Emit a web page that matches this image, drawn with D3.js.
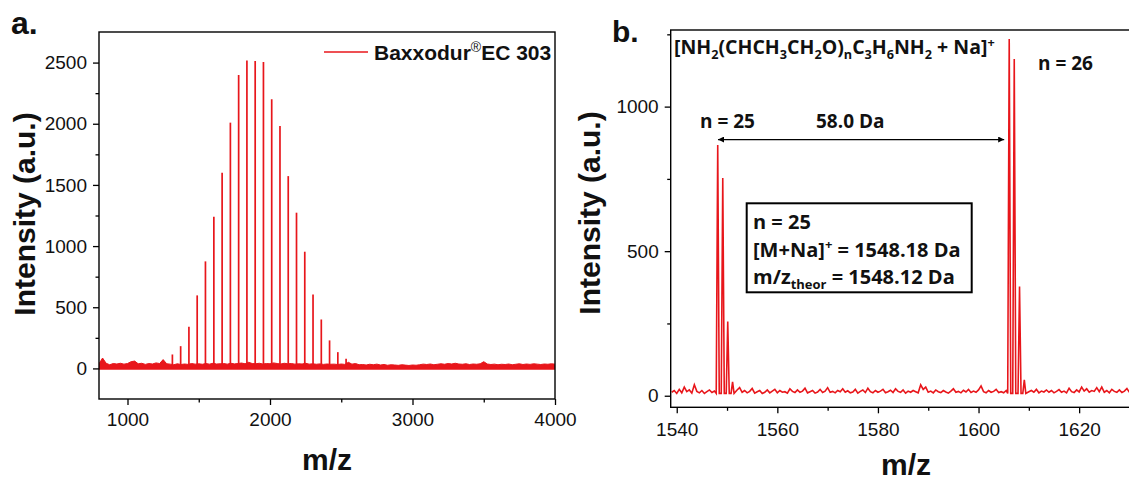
<!DOCTYPE html>
<html><head><meta charset="utf-8">
<script src="https://cdn.jsdelivr.net/npm/d3@7"></script>
<style>body{margin:0;background:#fff} svg{display:block}</style>
</head><body><svg id="c" width="1129" height="481"></svg>
<script>
// ---------- data: panel a ----------
const peaksA_mz  = [1315,1373,1431,1489,1547,1606,1664,1722,1780,1838,1896,1954,2012,2070,2128,2186,2244,2302,2360,2418,2476,2534];
const peaksA_int = [ 114, 182, 341, 597, 875,1240,1600,2009,2398,2518,2513,2505,2200,1981,1572,1273, 954, 605, 400, 229, 133,  79];
const noiseA_start = 800, noiseA_step = 25;
const noiseA = [38,85,42,30,40,36,42,35,40,55,60,38,42,33,40,36,45,40,72,38,
  35,30,38,32,36,33,40,35,38,34,40,35,42,36,38,40,35,42,37,40,
  44,38,50,40,38,42,36,40,38,45,40,36,42,38,40,35,38,36,42,35,
  38,34,37,33,36,34,35,32,36,33,50,35,40,30,32,28,34,30,35,28,
  32,26,30,28,25,30,27,24,28,26,30,35,32,36,30,34,38,34,40,36,
  42,36,34,38,32,36,34,38,55,36,32,35,30,34,32,36,30,34,38,32,
  36,33,38,35,32,36,34,38,35];
const xTicksA = [1000,2000,3000,4000];
const xMinorA = [1500,2500,3500];
const yTicksA = [0,500,1000,1500,2000,2500];
const yMinorA = [250,750,1250,1750,2250];

// ---------- data: panel b ----------
const peaksB_mz  = [1548.15,1549.15,1550.14,1551.1,1606.1,1607.1,1608.15,1609.1];
const peaksB_int = [ 867, 753, 257, 48, 1234, 1165, 378, 55];
const noiseB_start = 1539, noiseB_step = 0.5;
const noiseB = [12,18,8,22,10,30,14,20,9,38,
  15,10,18,8,14,20,11,16,10,12,
  10,12,10,14,10,45,20,28,12,18,
  10,15,25,9,14,18,8,12,20,10,
  16,22,10,18,12,14,9,24,15,11,
  20,12,16,26,10,14,18,9,13,22,
  11,16,28,12,15,10,18,14,24,12,
  17,10,13,22,9,15,20,11,26,14,
  10,18,12,16,22,10,14,19,11,24,
  15,12,20,9,16,12,18,14,10,38,
  22,30,12,16,10,20,14,11,18,13,
  9,16,24,12,15,10,19,13,22,11,
  16,12,20,34,14,10,18,12,15,22,
  11,14,10,18,10,10,10,10,10,10,
  10,28,14,18,12,22,10,16,13,20,
  12,18,10,15,21,12,16,10,26,14,
  11,20,13,30,16,24,12,18,15,28,
  14,30,12,18,10,22,15,12,20,11,
  16,25,12,18,14,20,12];
const xTicksB = [1540,1560,1580,1600,1620];
const xMinorB = [1550,1570,1590,1610,1630];
const yTicksB = [0,500,1000];
const yMinorB = [250,750,1250];

const RED = "#e8161b";
const TICKFONT = "'Liberation Sans', Arial, sans-serif";
const LBLFONT = "'Open Sans', 'Lato', sans-serif";

const svg = d3.select("#c");
const defs = svg.append("defs");

// ---------- panel a ----------
const A = {l:99, r:555, t:32, b:399};
const xA = d3.scaleLinear().domain([800,4000]).range([A.l, A.r]);
const yA = d3.scaleLinear().domain([-250,2750]).range([A.b, A.t]);

const gA = svg.append("g");
defs.append("clipPath").attr("id","clipA").append("rect")
  .attr("x",A.l).attr("y",A.t).attr("width",A.r-A.l).attr("height",A.b-A.t);

const noiseAPts = noiseA.map((v,i)=>({mz: noiseA_start + i*noiseA_step, v}));
const plotA = gA.append("g").attr("clip-path","url(#clipA)");
plotA.append("path").datum(noiseAPts)
  .attr("d", d3.area().x(d=>xA(d.mz)).y0(yA(-10)).y1(d=>yA(d.v)))
  .attr("fill", RED);
plotA.append("path").datum(noiseAPts)
  .attr("d", d3.line().x(d=>xA(d.mz)).y(d=>yA(d.v)))
  .attr("fill","none").attr("stroke",RED).attr("stroke-width",1);
plotA.selectAll("line.pk").data(peaksA_mz.map((m,i)=>({mz:m, v:peaksA_int[i]})))
  .join("line").attr("class","pk")
  .attr("x1",d=>xA(d.mz)).attr("x2",d=>xA(d.mz))
  .attr("y1",yA(0)).attr("y2",d=>yA(d.v))
  .attr("stroke",RED).attr("stroke-width",1.7);

function styleAxis(g){
  g.select(".domain").remove();
  g.selectAll(".tick line").attr("stroke","#000").attr("stroke-width",1.3);
  g.selectAll(".tick text").attr("font-family",TICKFONT).attr("font-size",19).attr("fill","#111");
}
// x axis a
gA.append("g").attr("transform",`translate(0,${A.b})`)
  .call(d3.axisBottom(xA).tickValues(xTicksA).tickSize(6).tickPadding(8).tickFormat(d3.format("d")))
  .call(styleAxis);
gA.append("g").attr("transform",`translate(0,${A.b})`)
  .call(d3.axisBottom(xA).tickValues(xMinorA).tickSize(3.5).tickFormat(""))
  .call(styleAxis);
// y axis a
gA.append("g").attr("transform",`translate(${A.l},0)`)
  .call(d3.axisLeft(yA).tickValues(yTicksA).tickSize(6).tickPadding(6).tickFormat(d3.format("d")))
  .call(styleAxis);
gA.append("g").attr("transform",`translate(${A.l},0)`)
  .call(d3.axisLeft(yA).tickValues(yMinorA).tickSize(3.5).tickFormat(""))
  .call(styleAxis);
gA.append("rect").attr("x",A.l).attr("y",A.t).attr("width",A.r-A.l).attr("height",A.b-A.t)
  .attr("fill","none").attr("stroke","#000").attr("stroke-width",1.4);

// legend a
gA.append("line").attr("x1",324).attr("x2",368).attr("y1",52).attr("y2",52)
  .attr("stroke",RED).attr("stroke-width",1.6);
const legT = gA.append("text").attr("x",374).attr("y",59.5)
  .attr("font-family",TICKFONT).attr("font-weight","bold").attr("font-size",21).attr("fill","#111");
legT.append("tspan").text("Baxxodur");
legT.append("tspan").text("®").attr("font-size",14).attr("font-weight","normal").attr("dy",-8);
legT.append("tspan").text("EC 303").attr("dy",8);

// titles a
gA.append("text").attr("x",11).attr("y",34).text("a.")
  .attr("font-family",TICKFONT).attr("font-weight","bold").attr("font-size",32).attr("fill","#111");
gA.append("text").attr("transform",`translate(35,214) rotate(-90)`).attr("text-anchor","middle")
  .text("Intensity (a.u.)").attr("font-family",TICKFONT).attr("font-weight","bold").attr("font-size",30).attr("fill","#111");
gA.append("text").attr("x",(A.l+A.r)/2).attr("y",470).attr("text-anchor","middle")
  .text("m/z").attr("font-family",TICKFONT).attr("font-weight","bold").attr("font-size",30).attr("fill","#111");

// ---------- panel b ----------
const B = {l:670.7, r:1140, t:30, b:407.3};
const xB = d3.scaleLinear().domain([1538.8,1632.1]).range([B.l, B.r]);
const yB = d3.scaleLinear().domain([-40,1265]).range([B.b, B.t]);
const gB = svg.append("g");
defs.append("clipPath").attr("id","clipB").append("rect")
  .attr("x",B.l).attr("y",B.t).attr("width",B.r-B.l).attr("height",B.b-B.t);

// build spectrum b: noise + narrow triangular peaks
let ptsB = noiseB.map((v,i)=>({mz: noiseB_start + i*noiseB_step, v}))
  .filter(p => !peaksB_mz.some(m => Math.abs(p.mz-m) < 0.45));
peaksB_mz.forEach((m,i)=>{
  ptsB.push({mz:m-0.3, v:8});
  ptsB.push({mz:m, v:peaksB_int[i]});
  ptsB.push({mz:m+0.3, v:8});
});
ptsB.sort((a,b)=>a.mz-b.mz);
gB.append("g").attr("clip-path","url(#clipB)").append("path").datum(ptsB)
  .attr("d", d3.line().x(d=>xB(d.mz)).y(d=>yB(d.v)))
  .attr("fill","none").attr("stroke",RED).attr("stroke-width",1.6).attr("stroke-linejoin","miter");

gB.append("g").attr("transform",`translate(0,${B.b})`)
  .call(d3.axisBottom(xB).tickValues(xTicksB).tickSize(6).tickPadding(9).tickFormat(d3.format("d")))
  .call(styleAxis);
gB.append("g").attr("transform",`translate(0,${B.b})`)
  .call(d3.axisBottom(xB).tickValues(xMinorB).tickSize(3.5).tickFormat(""))
  .call(styleAxis);
gB.append("g").attr("transform",`translate(${B.l},0)`)
  .call(d3.axisLeft(yB).tickValues(yTicksB).tickSize(6).tickPadding(6).tickFormat(d3.format("d")))
  .call(styleAxis);
gB.append("g").attr("transform",`translate(${B.l},0)`)
  .call(d3.axisLeft(yB).tickValues(yMinorB).tickSize(3.5).tickFormat(""))
  .call(styleAxis);
gB.append("rect").attr("x",B.l).attr("y",B.t).attr("width",B.r-B.l).attr("height",B.b-B.t)
  .attr("fill","none").attr("stroke","#000").attr("stroke-width",1.4);

gB.append("text").attr("x",612).attr("y",42).text("b.")
  .attr("font-family",TICKFONT).attr("font-weight","bold").attr("font-size",30).attr("fill","#111");
gB.append("text").attr("transform",`translate(600,213) rotate(-90)`).attr("text-anchor","middle")
  .text("Intensity (a.u.)").attr("font-family",TICKFONT).attr("font-weight","bold").attr("font-size",30).attr("fill","#111");
gB.append("text").attr("x",906).attr("y",475).attr("text-anchor","middle")
  .text("m/z").attr("font-family",TICKFONT).attr("font-weight","bold").attr("font-size",30).attr("fill","#111");

function rich(g, x, y, parts, size){
  const t = g.append("text").attr("x",x).attr("y",y)
    .attr("font-family",LBLFONT).attr("font-weight","bold").attr("font-size",size).attr("fill","#111");
  let shift = 0;
  parts.forEach(([s,k])=>{
    const target = k==="sub" ? size*0.28 : k==="sup" ? -size*0.38 : 0;
    const sp = t.append("tspan").text(s).attr("dy", target-shift);
    if(k!=="n") sp.attr("font-size", size*0.65);
    shift = target;
  });
  return t;
}
rich(gB, 674, 54, [["[NH","n"],["2","sub"],["(CHCH","n"],["3","sub"],["CH","n"],["2","sub"],["O)","n"],["n","sub"],
  ["C","n"],["3","sub"],["H","n"],["6","sub"],["NH","n"],["2","sub"],[" + Na]","n"],["+","sup"]], 19.5);
rich(gB, 700, 128.3, [["n = 25","n"]], 19);
rich(gB, 816, 128, [["58.0 Da","n"]], 19);
rich(gB, 1038, 70, [["n = 26","n"]], 19);

// arrow
const mk = (id, d) => defs.append("marker").attr("id",id).attr("viewBox","0 0 10 10")
  .attr("refX",d>0?10:0).attr("refY",5).attr("markerWidth",7).attr("markerHeight",6)
  .attr("markerUnits","userSpaceOnUse").attr("orient","auto")
  .append("path").attr("d", d>0 ? "M0,0 L10,5 L0,10 z" : "M10,0 L0,5 L10,10 z").attr("fill","#000");
mk("arrR",1); mk("arrL",-1);
gB.append("line").attr("x1",xB(1548.2)).attr("x2",xB(1605.1)).attr("y1",yB(886)).attr("y2",yB(886))
  .attr("stroke","#000").attr("stroke-width",1.1)
  .attr("marker-start","url(#arrL)").attr("marker-end","url(#arrR)");

// info box
gB.append("rect").attr("x",746.7).attr("y",203.3).attr("width",225).attr("height",89)
  .attr("fill","#fff").attr("stroke","#000").attr("stroke-width",2);
rich(gB, 753, 228.5, [["n = 25","n"]], 20);
rich(gB, 753, 257, [["[M+Na]","n"],["+","sup"],[" = 1548.18 Da","n"]], 20);
rich(gB, 753, 283.5, [["m/z","n"],["theor","sub"],[" = 1548.12 Da","n"]], 20);
</script></body></html>
